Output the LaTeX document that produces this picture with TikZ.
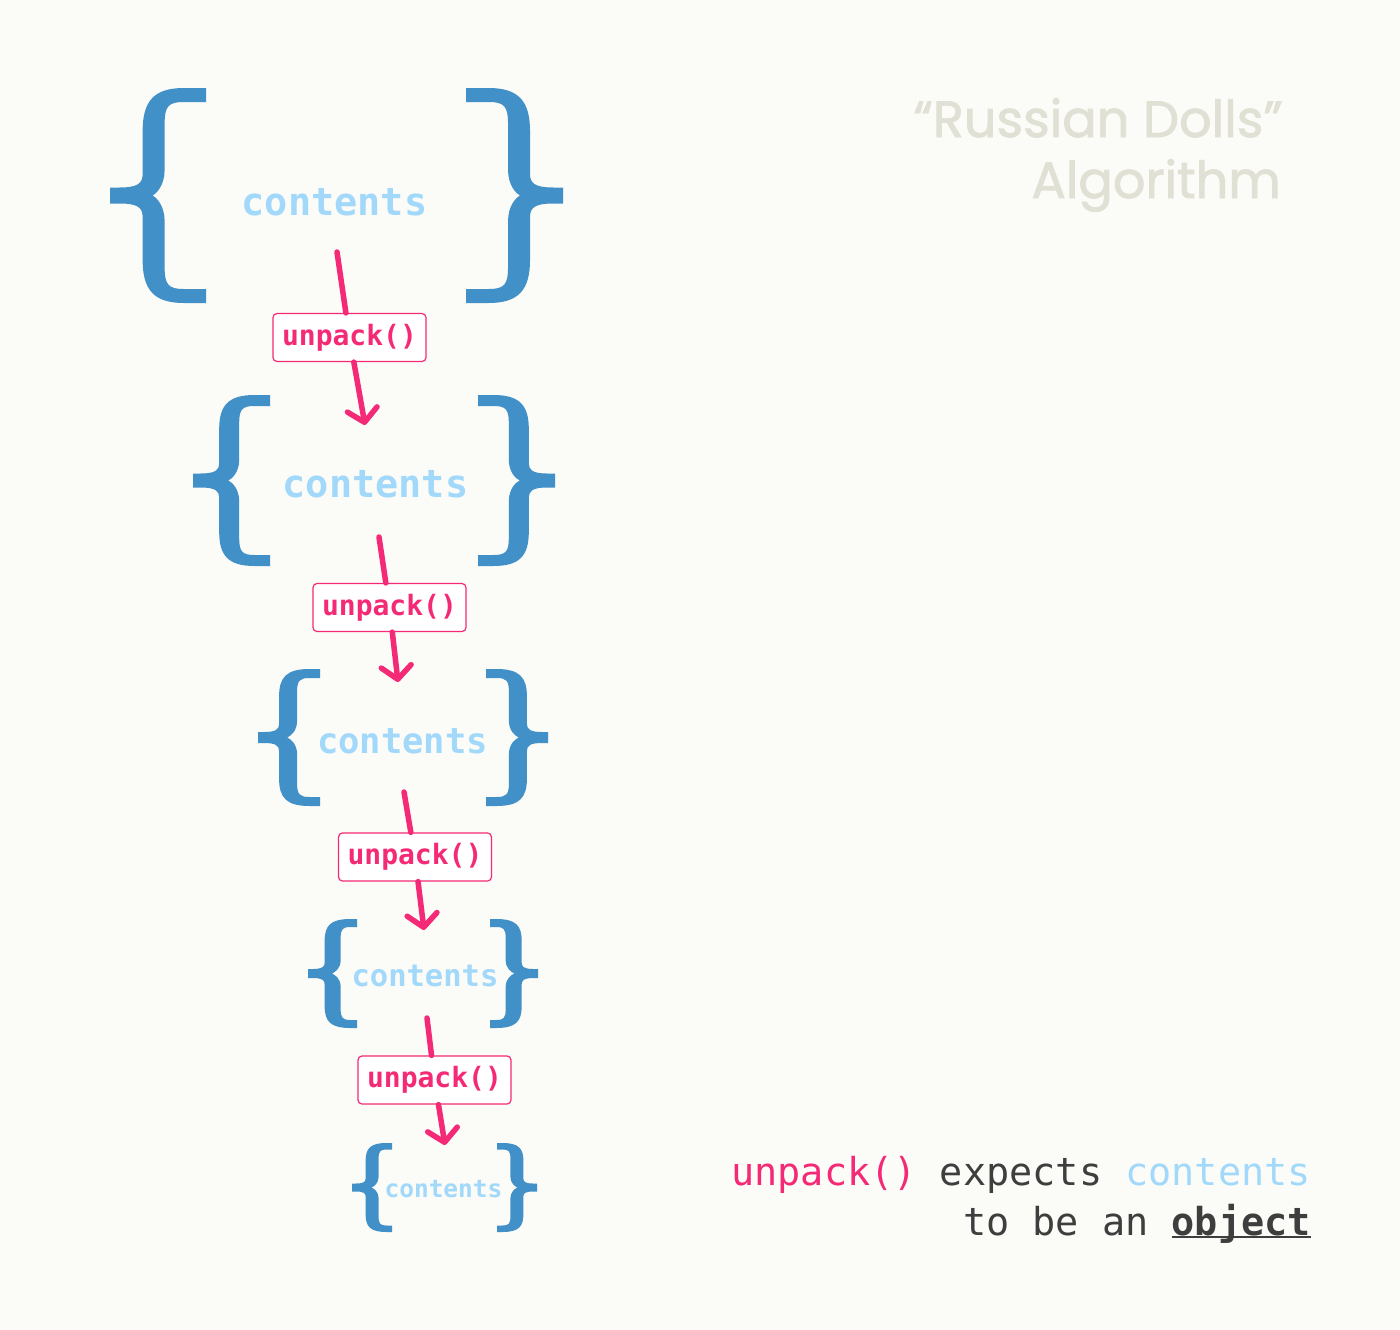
\documentclass[tikz,border=0pt]{standalone}
\usepackage{fontspec}
\setmonofont{DejaVu Sans Mono}
\newfontfamily\titlefont[FakeBold=1.6]{Poppins}
\usetikzlibrary{arrows.meta}
\definecolor{bgc}{HTML}{FBFBF7}
\definecolor{bracecol}{HTML}{4290C8}
\definecolor{contc}{HTML}{A2D9FB}
\definecolor{pinkc}{HTML}{F52A76}
\definecolor{darkc}{HTML}{3E3E3E}
\definecolor{titlec}{HTML}{E1E0D4}
% #1 x tip, #2 x bar end, #3 y top, #4 y bottom, #5 stem width, #6 bar thickness, #7 half tip height
\newcommand\curlyb[7]{%
 \pgfmathsetmacro\bW{#2-#1}%
 \pgfmathsetmacro\bSg{(#2>#1)?1:-1}%
 \pgfmathsetmacro\bH{#4-#3}%
 \pgfmathsetmacro\bYm{(#3+#4)/2}%
 \pgfmathsetmacro\bXo{#1+0.34*\bW}%
 \pgfmathsetmacro\bXi{\bXo+\bSg*#5}%
 \pgfmathsetmacro\bXm{\bXo+\bSg*0.45*#5}%
 \pgfmathsetmacro\bXa{\bXi+0.2*\bW}%
 \pgfmathsetmacro\bXc{\bXo+0.12*\bW}%
 \pgfmathsetmacro\bXd{\bXi+0.04*\bW}%
 \pgfmathsetmacro\bXt{#1+0.1*\bW}%
 \pgfmathsetmacro\bXe{\bXo-0.05*\bW}%
 \pgfmathsetmacro\bXn{\bXm+\bSg*0.2*#5}%
 \fill[bracecol]
  (#2,#3) -- (\bXa,#3)
  .. controls (\bXc,#3) and (\bXo,{#3+0.06*\bH}) .. (\bXo,{#3+0.2*\bH})
  -- (\bXo,{\bYm-0.1*\bH})
  .. controls (\bXo,{\bYm-#7-0.02*\bH}) and (\bXe,{\bYm-#7}) .. (\bXt,{\bYm-#7})
  -- (#1,{\bYm-#7}) -- (#1,{\bYm+#7}) -- (\bXt,{\bYm+#7})
  .. controls (\bXe,{\bYm+#7}) and (\bXo,{\bYm+#7+0.02*\bH}) .. (\bXo,{\bYm+0.1*\bH})
  -- (\bXo,{#4-0.2*\bH})
  .. controls (\bXo,{#4-0.06*\bH}) and (\bXc,#4) .. (\bXa,#4)
  -- (#2,#4) -- (#2,{#4-#6}) -- (\bXa,{#4-#6})
  .. controls (\bXd,{#4-#6}) and (\bXi,{#4-#6-0.02*\bH}) .. (\bXi,{#4-#6-0.1*\bH})
  -- (\bXi,{\bYm+0.12*\bH})
  .. controls (\bXi,{\bYm+0.05*\bH}) and (\bXn,{\bYm+0.01*\bH}) .. (\bXm,\bYm)
  .. controls (\bXn,{\bYm-0.01*\bH}) and (\bXi,{\bYm-0.05*\bH}) .. (\bXi,{\bYm-0.12*\bH})
  -- (\bXi,{#3+#6+0.1*\bH})
  .. controls (\bXi,{#3+#6+0.02*\bH}) and (\bXd,{#3+#6}) .. (\bXa,{#3+#6})
  -- (#2,{#3+#6}) -- cycle;}
\newcommand\objul[1]{\setbox0\hbox{#1}\rlap{\rule[-3pt]{\wd0}{2.5pt}}\box0}
\begin{document}
\begin{tikzpicture}[x=1pt,y=-1pt,
  cont/.style={anchor=base, inner sep=0pt, text=contc, font=\ttfamily\bfseries\fontsize{#1}{#1}\selectfont},
  ubox/.style={draw=pinkc, line width=1.2pt, fill=white, rounded corners=4pt, minimum width=153pt, minimum height=48pt, inner sep=0pt, text=pinkc, font=\ttfamily\bfseries\fontsize{28}{28}\selectfont},
  link/.style={draw=pinkc, line width=5.5pt, line cap=round},
  tip/.style={-{Straight Barb[length=13pt,width=30pt,round]}},
  title/.style={anchor=base east, inner sep=0pt, text=titlec, font=\titlefont\fontsize{51}{51}\selectfont},
  note/.style={anchor=base east, inner sep=0pt, text=darkc, font=\ttfamily\fontsize{38.5}{38.5}\selectfont}]
\fill[bgc] (0,0) rectangle (1400,1330);
\useasboundingbox (0,0) rectangle (1400,1330);

% braces
\curlyb{110}{206}{88}{303}{22}{14}{8}
\curlyb{563}{466}{88}{303}{22}{14}{8}
\curlyb{193}{270}{395}{566}{20}{11}{7}
\curlyb{555}{478}{395}{566}{20}{11}{7}
\curlyb{258}{320}{669}{806}{18}{9}{5.5}
\curlyb{548}{486}{669}{806}{18}{9}{5.5}
\curlyb{308}{357}{919}{1028}{16}{8}{4.5}
\curlyb{538}{490}{919}{1028}{16}{8}{4.5}
\curlyb{352}{392}{1143}{1232}{13}{6.5}{4}
\curlyb{537}{497}{1143}{1232}{13}{6.5}{4}

% contents
\node[cont=38.5] (c1) at (334.5,215) {contents};
\node[cont=38.5] (c2) at (375.5,497) {contents};
\node[cont=35.5] (c3) at (402.5,753) {contents};
\node[cont=30.5] (c4) at (425,986) {contents};
\node[cont=24.5] (c5) at (443.5,1197) {contents};

% arrow ends
\coordinate (s1) at (337,252);  \coordinate (e1) at (365,425);
\coordinate (s2) at (379,537);  \coordinate (e2) at (398,682);
\coordinate (s3) at (404,792);  \coordinate (e3) at (424,930);
\coordinate (s4) at (427,1018); \coordinate (e4) at (445,1145);

% unpack boxes
\node[ubox] (u1) at (349.5,337.5) {unpack()};
\node[ubox] (u2) at (389.5,607.5) {unpack()};
\node[ubox] (u3) at (415,857) {unpack()};
\node[ubox] (u4) at (434.5,1080) {unpack()};

\foreach \i in {1,2,3,4}{
  \draw[link] (s\i) -- (u\i);
  \draw[link,tip] (u\i) -- (e\i);
}

% title
\node[title] (t1) at (1283,137) {“Russian Dolls”};
\node[title] (t2) at (1281,198) {Algorithm};

% note
\node[note] (n1) at (1311,1185) {\textcolor{pinkc}{unpack()} expects \textcolor{contc}{contents}};
\node[note] (n2) at (1311,1235) {to be an \objul{\bfseries object}};
\end{tikzpicture}
\end{document}
